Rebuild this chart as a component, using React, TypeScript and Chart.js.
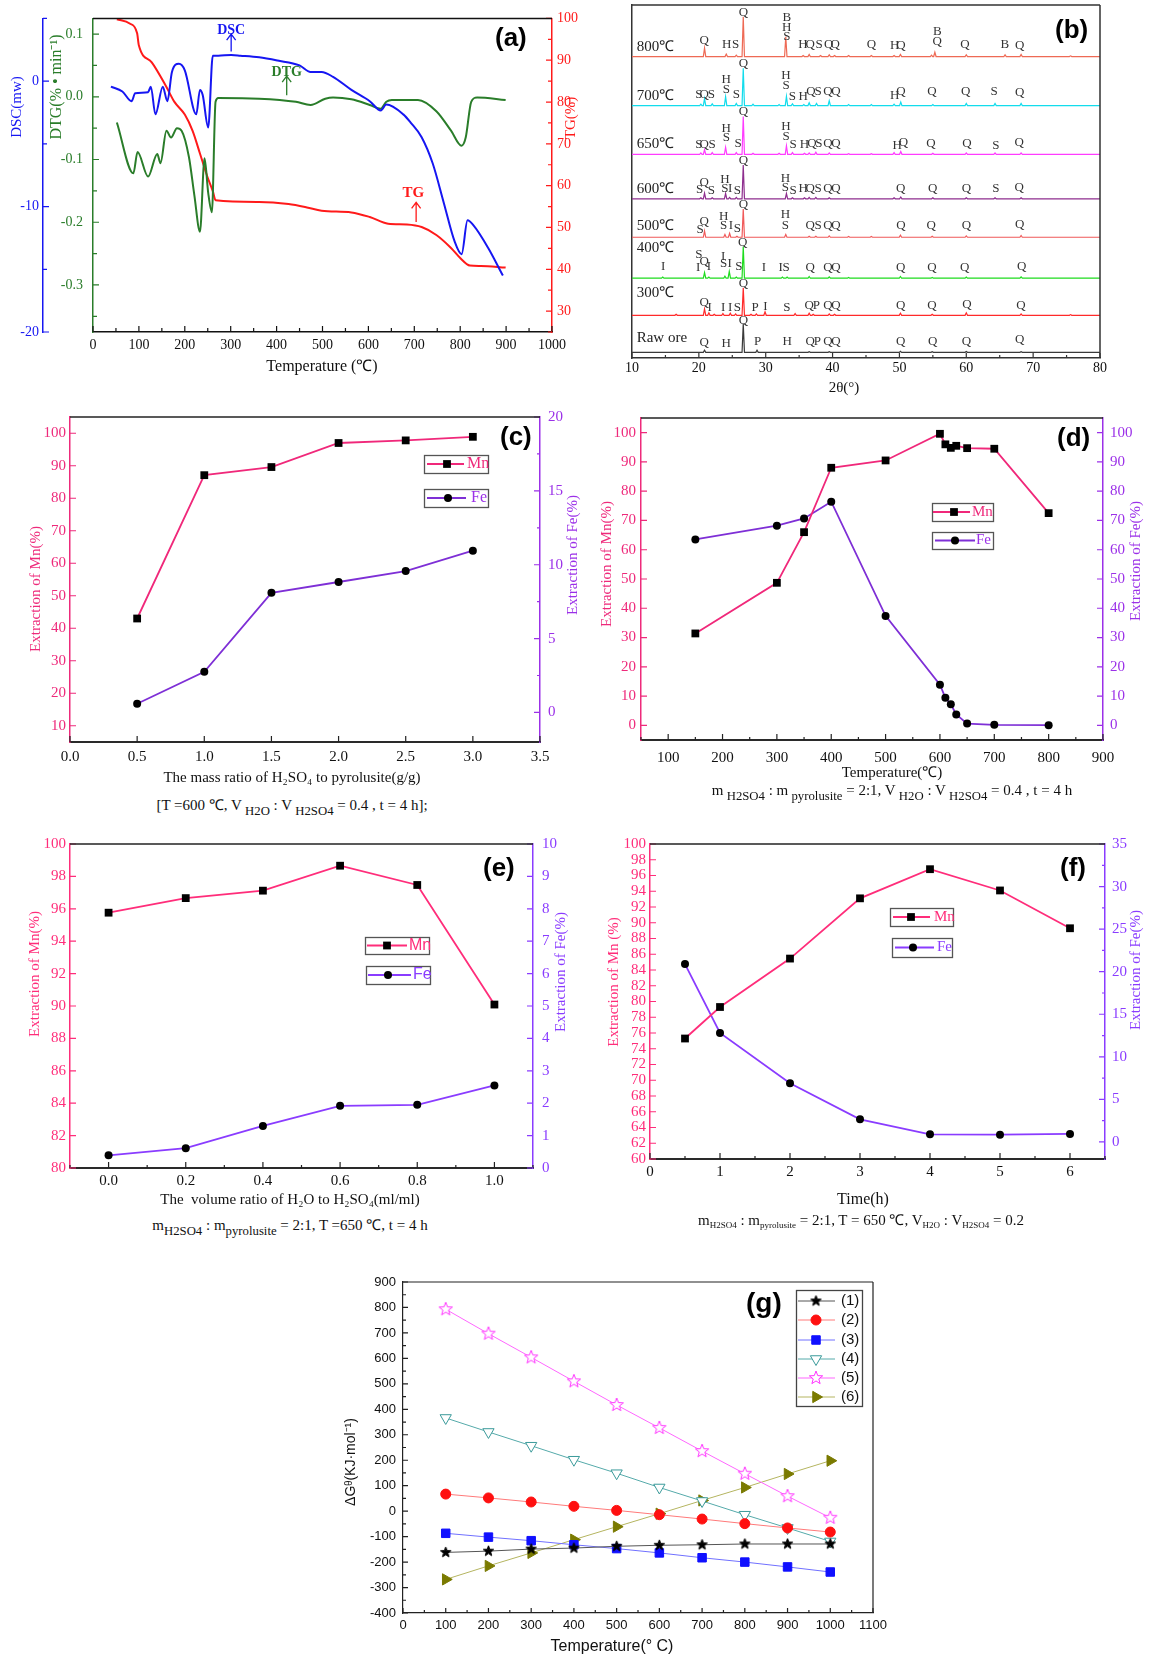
import React, { useEffect, useRef } from "react";
import { Chart, registerables } from "chart.js";

Chart.register(...registerables);

const SERIF = "'Liberation Serif', 'Times New Roman', serif";
const SANS = "'Liberation Sans', Arial, sans-serif";

/* ---------------- (a) thermal analysis ---------------- */
const dscT = [39, 64, 84, 92, 120, 126, 136, 152, 162, 172, 187, 200, 225, 233, 239, 251, 261, 273, 301, 321, 362, 402, 450, 474, 498, 523, 563, 603, 627, 639, 676, 692, 716, 740, 764, 788, 803, 816, 829, 861, 893];
const dscV = [-0.44, -0.83, -1.6, -0.96, -0.88, -0.44, -2.65, -0.44, -1.6, 0.73, 1.38, 0.86, -2.65, -0.7, -1.1, -3.7, 2.03, 2.03, 2.08, 2.03, 1.9, 1.64, 1.25, 0.73, 0.73, 0.34, -0.7, -1.6, -2.34, -1.87, -2.65, -3.3, -4.47, -6.55, -9.67, -12.8, -13.8, -11.1, -11.5, -13.3, -15.5];
const dtgT = [52, 88, 97, 120, 140, 147, 160, 170, 183, 193, 209, 221, 233, 243, 251, 259, 267, 273, 362, 442, 474, 506, 523, 563, 603, 627, 639, 651, 708, 748, 780, 803, 812, 824, 837, 899];
const dtgV = [-0.041, -0.122, -0.088, -0.127, -0.091, -0.106, -0.054, -0.065, -0.05, -0.054, -0.096, -0.158, -0.215, -0.098, -0.153, -0.184, -0.008, -0.002, -0.003, -0.008, -0.013, -0.003, -0.001, -0.004, -0.013, -0.019, -0.008, -0.005, -0.005, -0.023, -0.054, -0.078, -0.065, -0.008, -0.001, -0.005];
const tgT = [52, 80, 96, 100, 128, 160, 177, 200, 217, 233, 249, 261, 267, 362, 426, 466, 498, 563, 603, 643, 684, 716, 748, 780, 800, 821, 845, 899];
const tgV = [99.8, 98.8, 96.5, 93.5, 89.5, 83.6, 80.1, 77, 73.1, 67.7, 62.2, 58.7, 56.5, 56.1, 55.6, 54.8, 54, 53.6, 52.5, 50.9, 50.7, 50.1, 48.2, 45.1, 42.7, 40.9, 40.8, 40.4];
const aXTicks = [0, 100, 200, 300, 400, 500, 600, 700, 800, 900, 1000];
const aDscTicks = [-20, -10, 0];
const aDtgTicks = [-0.3, -0.2, -0.1, 0, 0.1];
const aTgTicks = [30, 40, 50, 60, 70, 80, 90, 100];

/* ---------------- (b) XRD ---------------- */
const xrdNames = ["Raw ore", "300℃", "400℃", "500℃", "600℃", "650℃", "700℃", "800℃"];
const xrdBase = [1.6, 12.1, 22.6, 34.2, 45.1, 57.7, 71.5, 85.4];
const xrdNameY = [5.7, 18.4, 31.1, 37.3, 47.8, 60.6, 74.1, 88.2];
const pkRaw = [[20.85, 0.6], [26.64, 8.1], [28.7, 0.6], [36.5, 0.2], [39.5, 0.2], [50.15, 0.3], [54.9, 0.2], [60.0, 0.25], [68.2, 0.2]];
const pk300 = [[16.6, 0.3], [20.85, 1.8], [21.5, 0.7], [22.3, 0.3], [23.6, 0.5], [24.7, 0.6], [25.5, 0.4], [26.64, 7.8], [27.8, 0.3], [28.6, 0.4], [29.9, 1.0], [34.4, 0.5], [36.5, 0.6], [37.1, 0.3], [39.5, 0.4], [40.3, 0.3], [50.15, 0.6], [54.9, 0.3], [60.0, 0.7], [68.2, 0.4], [75.6, 0.2]];
const pk400 = [[14.6, 0.3], [20.85, 1.6], [21.5, 0.3], [23.9, 0.6], [24.55, 1.9], [25.6, 0.3], [26.64, 9.0], [32.5, 0.3], [33.2, 0.3], [36.5, 0.5], [39.5, 0.4], [42.4, 0.2], [50.15, 0.5], [54.9, 0.2], [60.0, 0.3], [68.2, 0.4]];
const pk500 = [[20.85, 1.8], [23.9, 0.8], [24.6, 1.1], [25.7, 0.3], [26.64, 8.0], [33.0, 0.8], [36.5, 0.3], [37.5, 0.3], [39.5, 0.4], [42.4, 0.2], [45.8, 0.2], [50.15, 0.6], [54.9, 0.3], [60.0, 0.4], [68.2, 0.5]];
const pk600 = [[20.3, 0.3], [20.85, 1.6], [22.0, 0.3], [24.0, 1.5], [24.6, 0.4], [25.6, 0.4], [26.64, 9.6], [33.1, 1.5], [34.0, 0.3], [35.8, 0.3], [36.5, 0.4], [37.5, 0.4], [39.5, 0.3], [49.2, 0.3], [50.2, 0.5], [55.0, 0.3], [60.0, 0.3], [64.3, 0.3], [68.2, 0.3]];
const pk650 = [[20.3, 0.4], [20.85, 1.3], [22.0, 0.5], [24.0, 2.0], [25.6, 0.5], [26.64, 10.7], [28.1, 0.3], [32.0, 0.3], [33.1, 2.4], [34.0, 0.5], [35.8, 0.3], [36.5, 0.4], [37.5, 0.6], [39.5, 0.4], [42.4, 0.2], [45.8, 0.2], [49.2, 0.5], [50.2, 0.8], [55.0, 0.3], [60.0, 0.4], [64.3, 0.4], [68.2, 0.4]];
const pk700 = [[20.3, 0.4], [20.85, 2.0], [22.0, 0.5], [24.0, 2.5], [25.6, 0.6], [26.64, 10.6], [28.1, 0.4], [32.0, 0.3], [33.1, 2.6], [34.0, 0.5], [35.7, 0.3], [36.5, 0.8], [37.6, 0.6], [39.5, 1.4], [42.4, 0.3], [45.8, 0.3], [49.2, 0.4], [50.2, 1.0], [55.0, 0.3], [60.0, 0.6], [64.3, 0.6], [68.2, 0.6]];
const pk800 = [[20.85, 2.4], [24.1, 0.7], [25.6, 0.4], [26.64, 11.3], [33.0, 5.6], [35.6, 0.3], [36.5, 0.6], [38.2, 0.3], [39.5, 0.5], [40.3, 0.3], [42.4, 0.3], [45.8, 0.3], [49.2, 0.3], [50.15, 0.6], [54.8, 0.4], [55.3, 1.2], [60.0, 0.5], [65.8, 0.5], [68.2, 0.6], [75.6, 0.2]];
const xrdPeaks = [pkRaw, pk300, pk400, pk500, pk600, pk650, pk700, pk800];

const lbRaw = [[20.8, 4.5, "Q"], [24.1, 4.2, "H"], [26.66, 10.7, "Q"], [28.79, 4.7, "P"], [33.2, 4.7, "H"], [36.66, 4.7, "Q"], [37.73, 4.7, "P"], [39.32, 4.7, "Q"], [40.5, 4.7, "Q"], [50.18, 4.7, "Q"], [54.97, 4.7, "Q"], [60.03, 4.7, "Q"], [68.0, 5.2, "Q"]];
const lb300 = [[20.8, 15.6, "Q"], [21.6, 14.2, "I"], [23.62, 14.4, "I"], [24.69, 14.4, "I"], [25.75, 14.4, "S"], [26.66, 21.0, "Q"], [28.41, 14.4, "P"], [29.96, 14.6, "I"], [33.15, 14.4, "S"], [36.5, 14.8, "Q"], [37.57, 14.8, "P"], [39.32, 14.8, "Q"], [40.5, 14.8, "Q"], [50.18, 14.8, "Q"], [54.86, 14.8, "Q"], [60.08, 15.1, "Q"], [68.17, 14.8, "Q"]];
const lb400 = [[14.68, 25.9, "I"], [20.0, 29.2, "S"], [20.8, 27.2, "Q"], [19.9, 25.5, "I"], [21.5, 25.8, "I"], [23.62, 28.8, "I"], [23.7, 26.7, "S"], [24.6, 26.7, "I"], [25.97, 25.9, "S"], [26.55, 32.7, "Q"], [29.74, 25.5, "I"], [32.25, 25.5, "I"], [33.04, 25.5, "S"], [36.66, 25.5, "Q"], [39.32, 25.7, "Q"], [40.5, 25.7, "Q"], [50.18, 25.5, "Q"], [54.86, 25.5, "Q"], [59.76, 25.7, "Q"], [68.27, 25.9, "Q"]];
const lb500 = [[20.2, 36.5, "S"], [20.8, 38.7, "Q"], [23.7, 40.1, "H"], [23.7, 37.5, "S"], [24.8, 37.5, "I"], [25.75, 36.7, "S"], [26.66, 43.4, "Q"], [32.94, 40.6, "H"], [32.94, 37.5, "S"], [36.66, 37.5, "Q"], [37.83, 37.5, "S"], [39.32, 37.5, "Q"], [40.5, 37.5, "Q"], [50.23, 37.5, "Q"], [54.76, 37.5, "Q"], [60.03, 37.5, "Q"], [68.0, 37.7, "Q"]];
const lb600 = [[20.1, 47.6, "S"], [20.8, 49.8, "Q"], [21.87, 47.4, "S"], [23.9, 50.5, "H"], [23.9, 48.1, "S"], [24.7, 48.1, "I"], [25.75, 47.5, "S"], [26.66, 55.9, "Q"], [32.94, 50.8, "H"], [32.94, 48.4, "S"], [34.1, 47.4, "S"], [35.6, 47.9, "H"], [36.66, 47.9, "Q"], [37.83, 47.9, "S"], [39.32, 47.9, "Q"], [40.5, 47.9, "Q"], [50.18, 47.9, "Q"], [54.97, 48.1, "Q"], [60.03, 48.1, "Q"], [64.44, 48.1, "S"], [67.9, 48.3, "Q"]];
const lb650 = [[20.0, 60.6, "S"], [20.8, 60.6, "Q"], [21.97, 60.6, "S"], [24.1, 64.9, "H"], [24.1, 62.5, "S"], [25.86, 60.8, "S"], [26.66, 69.8, "Q"], [33.04, 65.6, "H"], [33.04, 62.7, "S"], [34.1, 60.6, "S"], [35.8, 60.6, "H"], [36.9, 60.8, "Q"], [37.94, 60.8, "S"], [39.32, 60.8, "Q"], [40.5, 60.8, "Q"], [49.65, 60.3, "H"], [50.6, 61.0, "Q"], [54.7, 60.7, "Q"], [60.08, 60.7, "Q"], [64.44, 60.3, "S"], [67.9, 61.0, "Q"]];
const lb700 = [[20.0, 74.7, "S"], [20.8, 74.7, "Q"], [21.87, 74.7, "S"], [24.1, 78.8, "H"], [24.1, 75.9, "S"], [25.6, 74.7, "S"], [26.66, 83.5, "Q"], [33.04, 79.9, "H"], [33.04, 77.2, "S"], [34.0, 74.1, "S"], [35.6, 74.1, "H"], [36.77, 75.5, "Q"], [37.83, 75.5, "S"], [39.32, 75.5, "Q"], [40.5, 75.5, "Q"], [49.28, 74.2, "H"], [50.23, 75.5, "Q"], [54.86, 75.5, "Q"], [59.92, 75.5, "Q"], [64.18, 75.5, "S"], [68.0, 75.3, "Q"]];
const lb800 = [[20.8, 89.9, "Q"], [24.16, 88.7, "H"], [25.5, 88.7, "S"], [26.66, 97.9, "Q"], [33.15, 96.5, "B"], [33.15, 93.7, "H"], [33.15, 91.0, "S"], [35.55, 88.7, "H"], [36.66, 88.9, "Q"], [38.0, 88.9, "S"], [39.43, 88.9, "Q"], [40.39, 88.9, "Q"], [45.8, 88.9, "Q"], [49.28, 88.5, "H"], [50.23, 88.5, "Q"], [55.66, 92.5, "B"], [55.66, 89.6, "Q"], [59.81, 88.9, "Q"], [65.77, 88.9, "B"], [68.0, 88.5, "Q"]];
const xrdLabels = [lbRaw, lb300, lb400, lb500, lb600, lb650, lb700, lb800];
const bXTicks = [10, 20, 30, 40, 50, 60, 70, 80];

/* ---------------- (c) ---------------- */
const ratioC = [0.5, 1.0, 1.5, 2.0, 2.5, 3.0];
const mnC = [43, 87.1, 89.6, 97.0, 97.8, 98.9];
const feC = [0.59, 2.75, 8.1, 8.83, 9.57, 10.95];
const cXTicks = [0, 0.5, 1, 1.5, 2, 2.5, 3, 3.5];
const cYTicks = [10, 20, 30, 40, 50, 60, 70, 80, 90, 100];
const cY2Ticks = [0, 5, 10, 15, 20];

/* ---------------- (d) ---------------- */
const tempD = [150, 300, 350, 400, 500, 600, 610, 620, 630, 650, 700, 800];
const mnD = [31.4, 48.7, 66, 88, 90.5, 99.6, 96, 94.8, 95.5, 94.7, 94.5, 72.5];
const feD = [63.5, 68.2, 70.7, 76.4, 37.4, 13.9, 9.4, 7.2, 3.7, 0.6, 0.2, 0.05];
const dXTicks = [100, 200, 300, 400, 500, 600, 700, 800, 900];
const dYTicks = [0, 10, 20, 30, 40, 50, 60, 70, 80, 90, 100];

/* ---------------- (e) ---------------- */
const volE = [0, 0.2, 0.4, 0.6, 0.8, 1.0];
const mnE = [95.76, 96.66, 97.12, 98.66, 97.47, 90.09];
const feE = [0.39, 0.61, 1.3, 1.92, 1.95, 2.55];
const eXTicks = [0, 0.2, 0.4, 0.6, 0.8, 1.0];
const eYTicks = [80, 82, 84, 86, 88, 90, 92, 94, 96, 98, 100];
const eY2Ticks = [0, 1, 2, 3, 4, 5, 6, 7, 8, 9, 10];

/* ---------------- (f) ---------------- */
const timeF = [0.5, 1, 2, 3, 4, 5, 6];
const mnF = [75.3, 79.3, 85.45, 93.1, 96.8, 94.1, 89.3];
const feF = [20.9, 12.8, 6.9, 2.66, 0.9, 0.86, 0.94];
const fXTicks = [0, 1, 2, 3, 4, 5, 6];
const fYTicks = [60, 62, 64, 66, 68, 70, 72, 74, 76, 78, 80, 82, 84, 86, 88, 90, 92, 94, 96, 98, 100];
const fY2Ticks = [0, 5, 10, 15, 20, 25, 30, 35];

/* ---------------- (g) ---------------- */
const tempG = [100, 200, 300, 400, 500, 600, 700, 800, 900, 1000];
const g1 = [-162, -157, -149, -145, -138, -134, -132, -129, -129, -129];
const g2 = [67, 52, 36, 19, 3, -14, -31, -49, -66, -82];
const g3 = [-87, -102, -116, -132, -147, -164, -183, -200, -219, -239];
const g4 = [366, 311, 257, 202, 149, 93, 40, -14, -66, -119];
const g5 = [793, 697, 604, 510, 417, 327, 236, 147, 59, -26];
const g6 = [-268, -215, -164, -112, -61, -10, 42, 93, 146, 198];
const gNames = ["(1)", "(2)", "(3)", "(4)", "(5)", "(6)"];
const gXTicks = [0, 100, 200, 300, 400, 500, 600, 700, 800, 900, 1000, 1100];
const gYTicks = [-400, -300, -200, -100, 0, 100, 200, 300, 400, 500, 600, 700, 800, 900];

/* ---------------- helpers ---------------- */
const xy = (xs: number[], ys: number[]) => xs.map((x, i) => ({ x, y: ys[i] }));
const fnt = (size: number, fam = SERIF, bold = false) => `${bold ? "bold " : ""}${size}px ${fam}`;

function lin(o: any) {
  const vertical = o.pos === "left" || o.pos === "right";
  return {
    type: "linear",
    position: o.pos,
    min: o.min,
    max: o.max,
    weight: o.weight ?? 0,
    afterBuildTicks: (s: any) => {
      s.ticks = o.ticks.map((v: number) => ({ value: v }));
    },
    afterFit: (s: any) => {
      if (vertical) s.width = o.size;
      else s.height = o.size;
    },
    grid: { display: false, drawTicks: false },
    border: { display: true, color: o.border ?? o.color, width: o.bw ?? 1.5 },
    ticks: {
      display: o.labels !== false,
      autoSkip: false,
      maxRotation: 0,
      minRotation: 0,
      color: o.color,
      font: { family: o.fam ?? SERIF, size: o.fs ?? 14 },
      padding: o.pad ?? 4,
      callback: (v: number) => Number(v).toFixed(o.dec ?? 0),
    },
    title: { display: false },
  };
}

function drawMarker(ctx: CanvasRenderingContext2D, ds: any, x: number, y: number) {
  const st = ds.pointStyle ?? "circle";
  const r = ds.pointRadius ?? 3;
  const rot = ((ds.pointRotation ?? 0) * Math.PI) / 180;
  ctx.save();
  ctx.translate(x, y);
  if (typeof st !== "string") {
    ctx.rotate(rot);
    ctx.drawImage(st, -st.width / 2, -st.height / 2);
    ctx.restore();
    return;
  }
  ctx.beginPath();
  if (st === "circle") ctx.arc(0, 0, r, 0, Math.PI * 2);
  else if (st === "rect") {
    const s = Math.SQRT1_2 * r;
    ctx.rect(-s, -s, 2 * s, 2 * s);
  } else if (st === "triangle") {
    ctx.rotate(rot);
    ctx.moveTo(0, -r);
    ctx.lineTo(r * Math.sin((2 * Math.PI) / 3), -r * Math.cos((2 * Math.PI) / 3));
    ctx.lineTo(r * Math.sin((4 * Math.PI) / 3), -r * Math.cos((4 * Math.PI) / 3));
    ctx.closePath();
  }
  ctx.fillStyle = ds.pointBackgroundColor ?? "#000";
  ctx.fill();
  const bw = ds.pointBorderWidth ?? 1;
  if (bw > 0) {
    ctx.strokeStyle = ds.pointBorderColor ?? "#000";
    ctx.lineWidth = bw;
    ctx.stroke();
  }
  ctx.restore();
}

function starCanvas(R: number, fill: string, stroke: string, lw: number) {
  const c = document.createElement("canvas");
  const s = Math.ceil(2 * R + 4);
  c.width = s;
  c.height = s;
  const g = c.getContext("2d")!;
  g.beginPath();
  for (let i = 0; i < 10; i++) {
    const rr = i % 2 ? R * 0.42 : R;
    const a = -Math.PI / 2 + (i * Math.PI) / 5;
    g.lineTo(s / 2 + rr * Math.cos(a), s / 2 + rr * Math.sin(a));
  }
  g.closePath();
  g.fillStyle = fill;
  g.fill();
  g.strokeStyle = stroke;
  g.lineWidth = lw;
  g.stroke();
  return c;
}

/* ---------------- plugins ---------------- */
const tickMarksPlugin = {
  id: "tickMarks",
  afterDraw(chart: any, _a: any, o: any) {
    const ctx = chart.ctx;
    ctx.save();
    (o.axes || []).forEach((a: any) => {
      const s = chart.scales[a.id];
      if (!s) return;
      const majors = s.ticks.map((t: any) => t.value);
      const marks: number[][] = majors.map((v: number) => [v, a.major]);
      if (a.minorDiv && majors.length > 1) {
        const step = (majors[1] - majors[0]) / a.minorDiv;
        const k0 = Math.ceil((s.min - majors[0]) / step - 1e-9);
        const k1 = Math.floor((s.max - majors[0]) / step + 1e-9);
        for (let k = k0; k <= k1; k++) {
          if (((k % a.minorDiv) + a.minorDiv) % a.minorDiv !== 0) marks.push([majors[0] + k * step, a.minor]);
        }
      }
      ctx.strokeStyle = a.color;
      ctx.lineWidth = a.width ?? 1.2;
      ctx.beginPath();
      const dir = a.out ? -1 : 1;
      marks.forEach(([v, len]) => {
        const p = s.getPixelForValue(v);
        if (s.isHorizontal()) {
          const yy = s.position === "bottom" ? s.top : s.bottom;
          const d = (s.position === "bottom" ? -1 : 1) * dir * len;
          ctx.moveTo(p, yy);
          ctx.lineTo(p, yy + d);
        } else {
          const xx = s.position === "left" ? s.right : s.left;
          const d = (s.position === "left" ? 1 : -1) * dir * len;
          ctx.moveTo(xx, p);
          ctx.lineTo(xx + d, p);
        }
      });
      ctx.stroke();
    });
    ctx.restore();
  },
};

const framePlugin = {
  id: "frame",
  afterDraw(chart: any, _a: any, o: any) {
    const { left, right, top, bottom } = chart.chartArea;
    const ctx = chart.ctx;
    ctx.save();
    ctx.lineWidth = o.width ?? 1.5;
    ctx.strokeStyle = o.color ?? "#111";
    ctx.beginPath();
    if (o.top) {
      ctx.moveTo(left, top);
      ctx.lineTo(right, top);
    }
    if (o.right) {
      ctx.moveTo(right, top);
      ctx.lineTo(right, bottom);
    }
    ctx.stroke();
    ctx.restore();
  },
};

const notesPlugin = {
  id: "notes",
  afterDatasetsDraw(chart: any, _a: any, o: any) {
    const ctx = chart.ctx;
    ctx.save();
    (o.texts || []).forEach((n: any) => {
      const xs = chart.scales[n.xAxis ?? "x"];
      const ys = chart.scales[n.yAxis ?? "y"];
      ctx.font = n.font;
      ctx.fillStyle = n.color;
      ctx.textAlign = n.align ?? "center";
      ctx.textBaseline = "middle";
      ctx.fillText(n.text, xs.getPixelForValue(n.x), ys.getPixelForValue(n.y));
    });
    (o.arrows || []).forEach((a: any) => {
      const xs = chart.scales[a.xAxis ?? "x"];
      const ys = chart.scales[a.yAxis ?? "y"];
      const x = xs.getPixelForValue(a.x);
      const y0 = ys.getPixelForValue(a.y0);
      const y1 = ys.getPixelForValue(a.y1);
      ctx.strokeStyle = a.color;
      ctx.lineWidth = 1.3;
      ctx.beginPath();
      ctx.moveTo(x, y0);
      ctx.lineTo(x, y1);
      ctx.moveTo(x - 4.5, y1 + 6);
      ctx.lineTo(x, y1);
      ctx.lineTo(x + 4.5, y1 + 6);
      ctx.stroke();
    });
    ctx.restore();
  },
};

const titlesPlugin = {
  id: "titles",
  afterDraw(chart: any, _a: any, o: any) {
    const ctx = chart.ctx;
    (o.items || []).forEach((t: any) => {
      ctx.save();
      ctx.translate(t.x, t.y);
      if (t.rot) ctx.rotate((t.rot * Math.PI) / 180);
      ctx.font = t.font;
      ctx.fillStyle = t.color ?? "#111";
      ctx.textAlign = "center";
      ctx.textBaseline = "middle";
      ctx.fillText(t.text, 0, 0);
      ctx.restore();
    });
  },
};

const boxLegendPlugin = {
  id: "boxLegend",
  afterDraw(chart: any, _a: any, o: any) {
    const ctx = chart.ctx;
    ctx.save();
    (o.boxes || []).forEach((b: any) => {
      ctx.fillStyle = "#fff";
      ctx.fillRect(b.x, b.y, b.w, b.h);
      ctx.strokeStyle = b.border ?? "#555";
      ctx.lineWidth = 1.3;
      ctx.strokeRect(b.x + 0.5, b.y + 0.5, b.w, b.h);
      b.rows.forEach((r: any) => {
        const ds = chart.data.datasets[r.ds];
        ctx.strokeStyle = ds.borderColor;
        ctx.lineWidth = ds.borderWidth;
        ctx.beginPath();
        ctx.moveTo(b.x0, r.y);
        ctx.lineTo(b.x1, r.y);
        ctx.stroke();
        drawMarker(ctx, ds, b.mx, r.y);
        ctx.fillStyle = r.color ?? "#111";
        ctx.font = b.font;
        ctx.textAlign = "left";
        ctx.textBaseline = "middle";
        ctx.fillText(r.text, b.tx, r.y);
      });
    });
    ctx.restore();
  },
};

const basePlugins = [tickMarksPlugin, framePlugin, notesPlugin, titlesPlugin, boxLegendPlugin];

/* ---------------- configs ---------------- */
function configA() {
  const blue = "#1616F2";
  const green = "#2A7D2A";
  const red = "#FF1A1A";
  const line = (d: any, id: string, c: string) => ({
    data: d,
    yAxisID: id,
    borderColor: c,
    borderWidth: 2,
    pointRadius: 0,
    cubicInterpolationMode: "monotone",
  });
  return {
    type: "line",
    data: {
      datasets: [
        line(xy(dscT, dscV), "yDSC", blue),
        line(xy(dtgT, dtgV), "yDTG", green),
        line(xy(tgT, tgV), "yTG", red),
      ],
    },
    options: {
      responsive: false,
      animation: false,
      events: [],
      layout: { padding: { left: 0, right: 0, top: 12, bottom: 28 } },
      plugins: {
        legend: { display: false },
        tooltip: { enabled: false },
        tickMarks: {
          axes: [
            { id: "x", major: 6, minor: 4, minorDiv: 2, color: "#111" },
            { id: "yDSC", major: 6, minor: 4, minorDiv: 2, color: blue },
            { id: "yDTG", major: 6, minor: 4, minorDiv: 2, color: green },
            { id: "yTG", major: 6, minor: 4, minorDiv: 2, color: red },
          ],
        },
        frame: { top: true, color: "#111" },
        notes: {
          texts: [
            { x: 301, y: 4.06, yAxis: "yDSC", text: "DSC", color: blue, font: fnt(14, SERIF, true) },
            { x: 422, y: 0.039, yAxis: "yDTG", text: "DTG", color: green, font: fnt(14, SERIF, true) },
            { x: 698, y: 58.3, yAxis: "yTG", text: "TG", color: red, font: fnt(15, SERIF, true) },
          ],
          arrows: [
            { x: 301, y0: 2.37, y1: 3.75, yAxis: "yDSC", color: blue },
            { x: 422, y0: 0.0026, y1: 0.033, yAxis: "yDTG", color: green },
            { x: 704, y0: 51.3, y1: 56, yAxis: "yTG", color: red },
          ],
        },
        titles: {
          items: [
            { text: "Temperature (℃)", x: 322, y: 367, font: fnt(16) },
            { text: "DSC(mw)", x: 17, y: 107, rot: -90, font: fnt(15), color: blue },
            { text: "DTG(% • min⁻¹)", x: 57, y: 87, rot: -90, font: fnt(16), color: green },
            { text: "TG(%)", x: 571, y: 118, rot: -90, font: fnt(15), color: red },
          ],
        },
      },
      scales: {
        x: lin({ pos: "bottom", min: 0, max: 1000, ticks: aXTicks, color: "#111", fs: 14, pad: 5, size: 25 }),
        yDSC: lin({ pos: "left", weight: 2, min: -20, max: 5, ticks: aDscTicks, color: blue, fs: 14, pad: 4, size: 43 }),
        yDTG: lin({ pos: "left", weight: 1, min: -0.375, max: 0.125, ticks: aDtgTicks, dec: 1, color: green, fs: 14, pad: 10, size: 50 }),
        yTG: lin({ pos: "right", min: 25, max: 100, ticks: aTgTicks, color: red, fs: 14, pad: 5, size: 28 }),
      },
    },
    plugins: basePlugins,
  };
}

function xrdLine(base: number, peaks: number[][]) {
  const w = 0.18;
  const out: any[] = [{ x: 10, y: base }];
  peaks
    .slice()
    .sort((a, b) => a[0] - b[0])
    .forEach(([p, h]) => {
      out.push({ x: p - w, y: base }, { x: p, y: base + h }, { x: p + w, y: base });
    });
  out.push({ x: 80, y: base });
  return out;
}

function configB() {
  const colors = ["#3A3A3A", "#FF2A2A", "#1EDC1E", "#F05A5A", "#8E2E8E", "#FF3CFF", "#12DCEC", "#EE6A55"];
  const texts: any[] = [];
  xrdNames.forEach((n, i) => texts.push({ x: 10.7, y: xrdNameY[i], text: n, align: "left", color: "#222", font: fnt(15) }));
  xrdLabels.forEach((arr) =>
    arr.forEach(([x, y, t]: any) => texts.push({ x, y, text: t, color: "#333", font: fnt(13) }))
  );
  return {
    type: "line",
    data: {
      datasets: xrdPeaks.map((pk, i) => ({
        data: xrdLine(xrdBase[i], pk),
        borderColor: colors[i],
        borderWidth: 1.2,
        pointRadius: 0,
        tension: 0,
      })),
    },
    options: {
      responsive: false,
      animation: false,
      events: [],
      layout: { padding: { left: 0, right: 49, top: 5, bottom: 17 } },
      plugins: {
        legend: { display: false },
        tooltip: { enabled: false },
        tickMarks: { axes: [{ id: "x", major: 5, minor: 3, minorDiv: 2, color: "#333" }] },
        frame: { top: true, right: true, color: "#333" },
        notes: { texts },
        titles: { items: [{ text: "2θ(°)", x: 254, y: 388, font: fnt(15) }] },
      },
      scales: {
        x: lin({ pos: "bottom", min: 10, max: 80, ticks: bXTicks, color: "#111", border: "#333", fs: 14, pad: 2, size: 25 }),
        y: lin({ pos: "left", min: 0, max: 100, ticks: [0], labels: false, color: "#333", size: 42 }),
      },
    },
    plugins: basePlugins,
  };
}

function mnFe(o: any) {
  return {
    type: "line",
    data: {
      datasets: [
        {
          data: xy(o.x, o.mn),
          yAxisID: "y",
          borderColor: o.mnLine,
          borderWidth: 1.8,
          pointStyle: "rect",
          pointRadius: 5.5,
          pointBackgroundColor: "#000",
          pointBorderColor: "#000",
          pointBorderWidth: 0,
        },
        {
          data: xy(o.x, o.fe),
          yAxisID: "y2",
          borderColor: o.feLine,
          borderWidth: 1.8,
          pointStyle: "circle",
          pointRadius: 4,
          pointBackgroundColor: "#000",
          pointBorderColor: "#000",
          pointBorderWidth: 0,
        },
      ],
    },
    options: {
      responsive: false,
      animation: false,
      events: [],
      layout: { padding: { left: 0, right: 0, top: o.padTop, bottom: o.padBottom } },
      plugins: {
        legend: { display: false },
        tooltip: { enabled: false },
        tickMarks: {
          axes: [
            { id: "x", major: 6, minor: 3, minorDiv: o.xMinor ?? 0, color: "#222" },
            { id: "y", major: 6, minor: 3, minorDiv: o.yMinor ?? 0, color: o.mnAxis },
            { id: "y2", major: 6, minor: 3, minorDiv: o.y2Minor ?? 0, color: o.feAxis },
          ],
        },
        frame: { top: true, color: "#222" },
        titles: { items: o.titles },
        boxLegend: { boxes: o.legend },
      },
      scales: {
        x: lin({ pos: "bottom", min: o.xMin, max: o.xMax, ticks: o.xTicks, dec: o.xDec ?? 0, color: "#111", border: "#2A2A2A", bw: 2, fs: 15, pad: o.xPad, size: 25 }),
        y: lin({ pos: "left", min: o.yMin, max: o.yMax, ticks: o.yTicks, color: o.mnAxis, fs: 15, pad: o.yPad, size: o.yW }),
        y2: lin({ pos: "right", min: o.y2Min, max: o.y2Max, ticks: o.y2Ticks, color: o.feAxis, fs: 15, pad: o.y2Pad, size: o.y2W }),
      },
    },
    plugins: basePlugins,
  };
}

const PINK = "#EE2A7B";
const PURPLE_CD = "#9B30E8";
const PURPLE_EF = "#8A3CFF";

function configC() {
  return mnFe({
    x: ratioC, mn: mnC, fe: feC,
    mnLine: "#F0287A", feLine: "#7E2FD6", mnAxis: PINK, feAxis: PURPLE_CD,
    xMin: 0, xMax: 3.5, xTicks: cXTicks, xDec: 1, xPad: 6,
    yMin: 5, yMax: 105, yTicks: cYTicks, yPad: 4, yW: 70,
    y2Min: -2, y2Max: 20, y2Ticks: cY2Ticks, y2Pad: 8, y2W: 50, y2Minor: 2,
    padTop: 22, padBottom: 28,
    titles: [
      { text: "The mass ratio of H₂SO₄ to pyrolusite(g/g)", x: 292, y: 383, font: fnt(15) },
      { text: "Extraction of Mn(%)", x: 36, y: 194, rot: -90, font: fnt(15), color: PINK },
      { text: "Extraction of Fe(%)", x: 573, y: 160, rot: -90, font: fnt(15), color: PURPLE_CD },
    ],
    legend: [
      { x: 424, y: 60, w: 64, h: 18, x0: 427, x1: 464, mx: 447, tx: 467, font: fnt(16), rows: [{ ds: 0, y: 69, text: "Mn", color: PINK }] },
      { x: 424, y: 94, w: 64, h: 18, x0: 427, x1: 466, mx: 448, tx: 471, font: fnt(16), rows: [{ ds: 1, y: 103, text: "Fe", color: PURPLE_CD }] },
    ],
  });
}

function configD() {
  return mnFe({
    x: tempD, mn: mnD, fe: feD,
    mnLine: "#F0287A", feLine: "#7E2FD6", mnAxis: PINK, feAxis: PURPLE_CD,
    xMin: 50, xMax: 900, xTicks: dXTicks, xPad: 9, xMinor: 2,
    yMin: -5, yMax: 105, yTicks: dYTicks, yPad: 5, yW: 71,
    y2Min: -5, y2Max: 105, y2Ticks: dYTicks, y2Pad: 7, y2W: 46,
    padTop: 23, padBottom: 20,
    titles: [
      { text: "Temperature(℃)", x: 322, y: 378, font: fnt(15) },
      { text: "Extraction of Mn(%)", x: 37, y: 169, rot: -90, font: fnt(15), color: PINK },
      { text: "Extraction of Fe(%)", x: 566, y: 166, rot: -90, font: fnt(15), color: PURPLE_CD },
    ],
    legend: [
      { x: 362, y: 108, w: 61, h: 18, x0: 363, x1: 400, mx: 384, tx: 402, font: fnt(15), rows: [{ ds: 0, y: 117, text: "Mn", color: PINK }] },
      { x: 362, y: 137, w: 61, h: 17, x0: 365, x1: 405, mx: 385, tx: 406, font: fnt(15), rows: [{ ds: 1, y: 145.5, text: "Fe", color: PURPLE_CD }] },
    ],
  });
}

function configE() {
  return mnFe({
    x: volE, mn: mnE, fe: feE,
    mnLine: "#FF2D7A", feLine: "#8A3CFF", mnAxis: "#FF2D7A", feAxis: PURPLE_EF,
    xMin: -0.1, xMax: 1.1, xTicks: eXTicks, xDec: 1, xPad: 4, xMinor: 2,
    yMin: 80, yMax: 100, yTicks: eYTicks, yPad: 4, yW: 70,
    y2Min: 0, y2Max: 10, y2Ticks: eY2Ticks, y2Pad: 9, y2W: 57,
    padTop: 19, padBottom: 22,
    titles: [
      { text: "The  volume ratio of H₂O to H₂SO₄(ml/ml)", x: 290, y: 375, font: fnt(15) },
      { text: "Extraction of Mn(%)", x: 35, y: 149, rot: -90, font: fnt(15), color: "#FF2D7A" },
      { text: "Extraction of Fe(%)", x: 561, y: 147, rot: -90, font: fnt(15), color: PURPLE_EF },
    ],
    legend: [
      { x: 365, y: 112, w: 64, h: 17, x0: 367, x1: 407, mx: 387, tx: 409, font: fnt(16, SANS), rows: [{ ds: 0, y: 120.5, text: "Mn", color: "#FF2D7A" }] },
      { x: 366, y: 141, w: 64, h: 18, x0: 368, x1: 411, mx: 388, tx: 413, font: fnt(16, SANS), rows: [{ ds: 1, y: 150, text: "Fe", color: PURPLE_EF }] },
    ],
  });
}

function configF() {
  return mnFe({
    x: timeF, mn: mnF, fe: feF,
    mnLine: "#FF2D7A", feLine: "#8A3CFF", mnAxis: "#FF2D7A", feAxis: PURPLE_EF,
    xMin: 0, xMax: 6.5, xTicks: fXTicks, xPad: 4, xMinor: 2,
    yMin: 60, yMax: 100, yTicks: fYTicks, yPad: 4, yW: 60,
    y2Min: -2, y2Max: 35, y2Ticks: fY2Ticks, y2Pad: 7, y2W: 44, y2Minor: 2,
    padTop: 19, padBottom: 31,
    titles: [
      { text: "Time(h)", x: 273, y: 375, font: fnt(16) },
      { text: "Extraction of Mn (%)", x: 24, y: 157, rot: -90, font: fnt(15), color: "#FF2D7A" },
      { text: "Extraction of Fe(%)", x: 546, y: 145, rot: -90, font: fnt(15), color: PURPLE_EF },
    ],
    legend: [
      { x: 300, y: 83, w: 63, h: 18, x0: 303, x1: 340, mx: 321, tx: 344, font: fnt(15), rows: [{ ds: 0, y: 92, text: "Mn", color: "#FF2D7A" }] },
      { x: 302, y: 113, w: 60, h: 19, x0: 305, x1: 344, mx: 323, tx: 347, font: fnt(15), rows: [{ ds: 1, y: 122.5, text: "Fe", color: PURPLE_EF }] },
    ],
  });
}

function configG() {
  const s1 = starCanvas(5.5, "#000", "#000", 1);
  const s5 = starCanvas(7, "#fff", "#FF33FF", 1);
  const mk = (d: number[], line: string, extra: any) => ({
    data: xy(tempG, d),
    borderColor: line,
    borderWidth: 1,
    ...extra,
  });
  const datasets = [
    mk(g1, "#555", { pointStyle: s1, pointRadius: 6 }),
    mk(g2, "#FF7A7A", { pointStyle: "circle", pointRadius: 5, pointBackgroundColor: "#FF1010", pointBorderColor: "#FF1010" }),
    mk(g3, "#7070FF", { pointStyle: "rect", pointRadius: 6, pointBackgroundColor: "#1010FF", pointBorderColor: "#1010FF" }),
    mk(g4, "#55AAAA", { pointStyle: "triangle", pointRotation: 180, pointRadius: 6.5, pointBackgroundColor: "#fff", pointBorderColor: "#3A9A9A", pointBorderWidth: 1 }),
    mk(g5, "#FF66FF", { pointStyle: s5, pointRadius: 7 }),
    mk(g6, "#B5B560", { pointStyle: "triangle", pointRotation: 90, pointRadius: 6.5, pointBackgroundColor: "#7A7A00", pointBorderColor: "#7A7A00" }),
  ];
  const rowsY = [36, 55, 75, 94, 113, 132];
  return {
    type: "line",
    data: { datasets },
    options: {
      responsive: false,
      animation: false,
      events: [],
      layout: { padding: { left: 0, right: 27, top: 17, bottom: 21 } },
      plugins: {
        legend: { display: false },
        tooltip: { enabled: false },
        tickMarks: {
          axes: [
            { id: "x", major: 5, minor: 3, minorDiv: 2, color: "#222" },
            { id: "y", major: 5, minor: 3, minorDiv: 2, color: "#222" },
          ],
        },
        frame: { top: true, right: true, color: "#222", width: 1.2 },
        titles: {
          items: [
            { text: "Temperature(° C)", x: 282, y: 382, font: fnt(16, SANS) },
            { text: "ΔGᶿ(KJ·mol⁻¹)", x: 21, y: 197, rot: -90, font: fnt(14, SANS) },
          ],
        },
        boxLegend: {
          boxes: [
            {
              x: 466, y: 25, w: 66, h: 116, x0: 468, x1: 505, mx: 486, tx: 511, font: fnt(15, SANS), border: "#444",
              rows: gNames.map((t, i) => ({ ds: i, y: rowsY[i], text: t, color: "#111" })),
            },
          ],
        },
      },
      scales: {
        x: lin({ pos: "bottom", min: 0, max: 1100, ticks: gXTicks, color: "#111", border: "#222", bw: 1.2, fam: SANS, fs: 13, pad: 5, size: 25 }),
        y: lin({ pos: "left", min: -400, max: 900, ticks: gYTicks, color: "#111", border: "#222", bw: 1.2, fam: SANS, fs: 13, pad: 7, size: 73 }),
      },
    },
    plugins: basePlugins,
  };
}

/* ---------------- React ---------------- */
type Box = { left: number; top: number; width: number; height: number };

function ChartBox({ box, make }: { box: Box; make: () => any }) {
  const ref = useRef<HTMLCanvasElement | null>(null);
  useEffect(() => {
    if (!ref.current) return;
    const chart = new Chart(ref.current, make());
    return () => chart.destroy();
  }, []);
  return (
    <canvas
      ref={ref}
      width={box.width}
      height={box.height}
      style={{ position: "absolute", left: box.left, top: box.top, width: box.width, height: box.height }}
    />
  );
}

const Sub = ({ children, small }: { children: any; small?: boolean }) => (
  <span style={{ fontSize: small ? "0.6em" : "0.85em", position: "relative", top: small ? "0.3em" : "0.4em" }}>{children}</span>
);

function Caption({ cx, cy, children }: { cx: number; cy: number; children: any }) {
  return (
    <div
      style={{
        position: "absolute",
        left: cx - 300,
        top: cy - 10,
        width: 600,
        textAlign: "center",
        font: fnt(15),
        lineHeight: "20px",
        whiteSpace: "nowrap",
        color: "#111",
      }}
    >
      {children}
    </div>
  );
}

function Letter({ x, cy, t, size = 26 }: { x: number; cy: number; t: string; size?: number }) {
  return (
    <div style={{ position: "absolute", left: x, top: cy - size * 0.6, font: fnt(size, SANS, true), lineHeight: `${size * 1.2}px`, color: "#000" }}>
      {t}
    </div>
  );
}

export default function App() {
  return (
    <div style={{ position: "absolute", left: 0, top: 0, width: 1149, height: 1659, background: "#fff", overflow: "hidden" }}>
      <ChartBox box={{ left: 0, top: 0, width: 580, height: 385 }} make={configA} />
      <ChartBox box={{ left: 590, top: 0, width: 559, height: 400 }} make={configB} />
      <ChartBox box={{ left: 0, top: 395, width: 590, height: 400 }} make={configC} />
      <ChartBox box={{ left: 570, top: 395, width: 579, height: 390 }} make={configD} />
      <ChartBox box={{ left: 0, top: 825, width: 590, height: 390 }} make={configE} />
      <ChartBox box={{ left: 590, top: 825, width: 559, height: 390 }} make={configF} />
      <ChartBox box={{ left: 330, top: 1265, width: 570, height: 394 }} make={configG} />

      <Letter x={495} cy={38} t="(a)" />
      <Letter x={1055} cy={30} t="(b)" />
      <Letter x={500} cy={437} t="(c)" />
      <Letter x={1057} cy={438} t="(d)" />
      <Letter x={483} cy={868} t="(e)" />
      <Letter x={1060} cy={868} t="(f)" />
      <Letter x={746} cy={1303} t="(g)" size={28} />

      <Caption cx={292} cy={805}>
        [T =600 ℃, V<Sub> H2O</Sub> : V<Sub> H2SO4</Sub> = 0.4 , t = 4 h];
      </Caption>
      <Caption cx={892} cy={790}>
        m<Sub> H2SO4</Sub> : m<Sub> pyrolusite</Sub> = 2:1, V<Sub> H2O</Sub> : V<Sub> H2SO4</Sub> = 0.4 , t = 4 h
      </Caption>
      <Caption cx={290} cy={1225}>
        m<Sub>H2SO4</Sub> : m<Sub>pyrolusite</Sub> = 2:1, T =650 ℃, t = 4 h
      </Caption>
      <Caption cx={861} cy={1220}>
        m<Sub small>H2SO4</Sub> : m<Sub small>pyrolusite</Sub> = 2:1, T = 650 ℃, V<Sub small>H2O</Sub> : V<Sub small>H2SO4</Sub> = 0.2
      </Caption>
    </div>
  );
}
